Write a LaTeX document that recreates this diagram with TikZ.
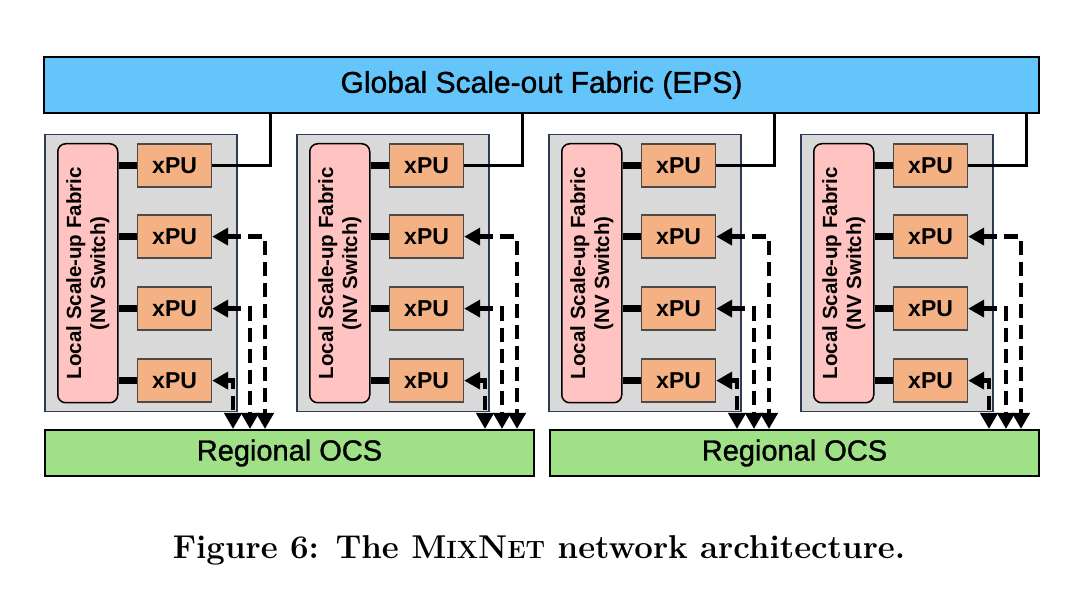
\documentclass[tikz,border=0pt]{standalone}
\usepackage{fontspec}
\setsansfont{Liberation Sans}
\newfontfamily\medsans[FakeBold=1.2]{Liberation Sans}
\usetikzlibrary{arrows.meta}
\definecolor{blueC}{HTML}{63C5FA}
\definecolor{greyC}{HTML}{D9D9D9}
\definecolor{navyC}{HTML}{2E3B57}
\definecolor{pinkC}{HTML}{FFC4C1}
\definecolor{orangeC}{HTML}{F4B183}
\definecolor{greenC}{HTML}{A0E087}
\definecolor{xpuline}{HTML}{4A4A4A}
\begin{document}
\begin{tikzpicture}[x=1pt,y=-1pt,
  globalbox/.style={draw=black, line width=2pt, fill=blueC, anchor=north west,
    minimum width=995pt, minimum height=56pt, inner sep=0pt,
    font=\medsans\fontsize{30}{30}\selectfont},
  podbox/.style={draw=navyC, line width=1.5pt, fill=greyC, anchor=north west,
    minimum width=192pt, minimum height=277pt, inner sep=0pt},
  switchbox/.style={draw=black, line width=1.5pt, fill=pinkC, rounded corners=8pt,
    anchor=north west, minimum width=60pt, minimum height=259pt, inner sep=0pt},
  switchtext/.style={rotate=90, align=center,
    font=\sffamily\bfseries\fontsize{20.5}{24}\selectfont},
  xpubox/.style={draw=xpuline, line width=1.2pt, fill=orangeC, anchor=north west,
    minimum width=74pt, minimum height=43pt, inner sep=0pt,
    font=\sffamily\bfseries\fontsize{23}{23}\selectfont},
  ocsbox/.style={draw=black, line width=2pt, fill=greenC, anchor=north west,
    minimum width=489pt, minimum height=46pt, inner sep=0pt,
    font=\medsans\fontsize{29}{29}\selectfont},
  nvlink/.style={line width=7pt},
  uplink/.style={line width=3pt},
  dlink/.style={line width=4.5pt, dash pattern=on 14pt off 7pt,
    {Triangle[length=16pt,width=17pt]}-{Triangle[length=16pt,width=17pt]}},
  captionfont/.style={font=\rmfamily\bfseries\fontsize{33}{33}\selectfont}
]
\useasboundingbox (0,0) rectangle (1080,593);

\node[globalbox] (G) at (43,56) {Global Scale-out Fabric (EPS)};
\node[ocsbox] (O0) at (44,429) {Regional OCS};
\node[ocsbox] (O1) at (549,429) {Regional OCS};

\foreach \i/\o in {0/O0,1/O0,2/O1,3/O1}{
  \pgfmathsetmacro\px{44+252*\i}
  \node[podbox] (pod\i) at (\px,134) {};
  \node[switchbox] (sw\i) at (\px+13,143) {};
  \node[switchtext] (swt\i) at (sw\i.center) {Local Scale-up Fabric\\(NV Switch)};
  \foreach \j/\yy in {1/143.5,2/214.5,3/286.5,4/358.5}{
    \node[xpubox] (x\i-\j) at (\px+93,\yy) {xPU};
    \draw[nvlink] (x\i-\j.west -| sw\i.east) -- (x\i-\j.west);
  }
  \coordinate (up\i) at (\px+226,0);
  \draw[uplink] (x\i-1.east) -| (up\i |- G.south);
  \coordinate (d\i-2) at (\px+221,0);
  \coordinate (d\i-3) at (\px+206,0);
  \coordinate (d\i-4) at (\px+189,0);
  \foreach \j in {2,3,4}{
    \draw[dlink] (x\i-\j.east) -| (d\i-\j |- \o.north);
  }
}

\node[captionfont, anchor=base] (cap) at (539,559)
  {Figure 6: The M{\fontsize{25}{25}\selectfont IX}N{\fontsize{25}{25}\selectfont ET} network architecture.};
\end{tikzpicture}
\end{document}
